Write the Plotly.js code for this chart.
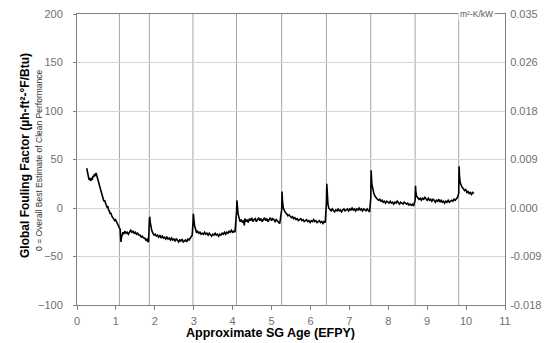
<!DOCTYPE html>
<html>
<head>
<meta charset="utf-8">
<script src="https://cdn.plot.ly/plotly-3.0.1.min.js"></script>
<style>html,body{margin:0;padding:0;background:#fff;}#chart{width:545px;height:343px;}</style>
</head>
<body>
<div id="chart"></div>
<script>
// Approximate outage (vertical line) positions, EFPY
const outages = [1.09, 1.86, 2.98, 4.10, 5.26, 6.41, 7.55, 8.69, 9.81];

// Fouling factor by operating cycle: [EFPY, µh-ft²-°F/Btu]
const cycle1 = [[0.25,41],[0.27,37],[0.29,33],[0.31,29],[0.33,31],[0.35,28],[0.37,30],[0.39,29],[0.41,33],[0.43,32],[0.45,35],[0.47,33],[0.49,36],[0.51,33],[0.53,31],[0.55,27],[0.57,25],[0.59,21],[0.61,19],[0.63,15],[0.65,13],[0.67,9],[0.69,7],[0.71,8],[0.73,4],[0.75,3],[0.77,1],[0.79,2],[0.81,-2],[0.83,-3],[0.85,-6],[0.87,-5],[0.89,-8],[0.91,-9],[0.93,-10],[0.95,-11],[0.97,-13],[0.99,-12],[1.01,-14],[1.03,-15],[1.05,-17],[1.07,-18],[1.09,-20],[1.11,-22],[1.12,-30],[1.13,-35],[1.14,-31],[1.16,-28],[1.18,-25],[1.20,-27],[1.23,-24],[1.26,-26],[1.29,-25],[1.32,-27],[1.35,-25],[1.38,-23],[1.41,-25],[1.44,-24],[1.47,-26],[1.50,-25],[1.53,-27],[1.56,-26],[1.59,-28],[1.62,-28],[1.65,-30],[1.68,-29],[1.71,-31],[1.74,-31],[1.77,-33],[1.80,-32],[1.82,-35],[1.84,-34]];
const cycle2 = [[1.86,-12],[1.87,-9],[1.88,-14],[1.90,-19],[1.92,-23],[1.95,-26],[1.98,-28],[2.01,-27],[2.04,-29],[2.07,-28],[2.10,-30],[2.13,-28],[2.16,-31],[2.19,-29],[2.22,-31],[2.25,-30],[2.28,-32],[2.31,-30],[2.34,-32],[2.37,-31],[2.40,-33],[2.43,-31],[2.46,-33],[2.49,-32],[2.52,-34],[2.55,-32],[2.58,-33],[2.61,-35],[2.64,-33],[2.67,-34],[2.70,-32],[2.73,-35],[2.76,-34],[2.79,-33],[2.82,-35],[2.85,-32],[2.88,-33],[2.91,-31],[2.94,-30],[2.96,-28]];
const cycle3 = [[2.98,-16],[2.99,-6],[3.00,-10],[3.02,-18],[3.04,-22],[3.07,-25],[3.10,-24],[3.13,-26],[3.16,-25],[3.19,-27],[3.22,-26],[3.25,-27],[3.28,-25],[3.31,-27],[3.34,-26],[3.37,-28],[3.40,-26],[3.43,-27],[3.46,-29],[3.49,-27],[3.52,-28],[3.55,-26],[3.58,-28],[3.61,-27],[3.64,-29],[3.67,-27],[3.70,-28],[3.73,-26],[3.76,-27],[3.79,-25],[3.82,-27],[3.85,-25],[3.88,-26],[3.91,-24],[3.94,-25],[3.97,-23],[4.00,-25],[4.03,-24],[4.06,-25]];
const cycle4 = [[4.10,-4],[4.11,8],[4.12,3],[4.14,-6],[4.16,-11],[4.19,-14],[4.22,-12],[4.25,-15],[4.28,-13],[4.30,-18],[4.31,-11],[4.34,-14],[4.37,-12],[4.40,-15],[4.43,-11],[4.46,-13],[4.49,-10],[4.52,-14],[4.55,-12],[4.58,-11],[4.61,-14],[4.64,-12],[4.67,-10],[4.70,-13],[4.73,-11],[4.76,-14],[4.79,-12],[4.82,-10],[4.85,-13],[4.88,-11],[4.91,-14],[4.94,-12],[4.97,-10],[5.00,-13],[5.03,-11],[5.06,-12],[5.09,-14],[5.12,-12],[5.15,-13],[5.18,-15],[5.21,-16]];
const cycle5 = [[5.26,-2],[5.27,17],[5.28,8],[5.30,0],[5.33,-3],[5.36,-5],[5.39,-6],[5.42,-8],[5.45,-7],[5.48,-9],[5.51,-10],[5.54,-9],[5.57,-11],[5.60,-10],[5.63,-12],[5.66,-11],[5.69,-13],[5.72,-12],[5.75,-11],[5.78,-13],[5.81,-12],[5.84,-14],[5.87,-13],[5.90,-12],[5.93,-14],[5.96,-13],[5.99,-15],[6.02,-13],[6.05,-14],[6.08,-12],[6.11,-14],[6.14,-13],[6.17,-15],[6.20,-14],[6.23,-13],[6.26,-15],[6.29,-14],[6.32,-16],[6.35,-14],[6.38,-15]];
const cycle6 = [[6.41,5],[6.42,25],[6.43,14],[6.45,4],[6.47,0],[6.50,-1],[6.53,-3],[6.56,-1],[6.59,-2],[6.62,-4],[6.65,-2],[6.68,-3],[6.71,-1],[6.74,-3],[6.77,-2],[6.80,-4],[6.83,-2],[6.86,-1],[6.89,-3],[6.92,-2],[6.95,-1],[6.98,-3],[7.01,-1],[7.04,-2],[7.07,0],[7.10,-2],[7.13,-1],[7.16,-3],[7.19,-1],[7.22,-2],[7.25,0],[7.28,-2],[7.31,-1],[7.34,-3],[7.37,-1],[7.40,-2],[7.43,-3],[7.46,-1],[7.49,-3],[7.52,-4]];
const cycle7 = [[7.55,10],[7.56,39],[7.57,30],[7.58,24],[7.60,19],[7.63,15],[7.66,12],[7.69,10],[7.72,9],[7.75,8],[7.78,9],[7.81,7],[7.84,8],[7.87,6],[7.90,7],[7.93,5],[7.96,7],[7.99,6],[8.02,5],[8.05,7],[8.08,5],[8.11,6],[8.14,4],[8.17,6],[8.20,5],[8.23,7],[8.26,5],[8.29,4],[8.32,6],[8.35,5],[8.38,4],[8.41,6],[8.44,5],[8.47,4],[8.50,5],[8.53,3],[8.56,4],[8.59,3],[8.62,4],[8.65,2]];
const cycle8 = [[8.69,8],[8.70,23],[8.71,16],[8.73,12],[8.76,10],[8.79,9],[8.82,10],[8.85,8],[8.88,10],[8.91,9],[8.94,11],[8.97,9],[9.00,8],[9.03,10],[9.06,8],[9.09,9],[9.12,7],[9.15,9],[9.18,8],[9.21,6],[9.24,8],[9.27,7],[9.30,9],[9.33,6],[9.36,8],[9.39,6],[9.42,7],[9.45,5],[9.48,7],[9.51,6],[9.54,8],[9.57,6],[9.60,7],[9.63,8],[9.66,7],[9.69,9],[9.72,8],[9.75,10],[9.78,11]];
const cycle9 = [[9.81,15],[9.82,43],[9.83,33],[9.85,26],[9.87,23],[9.90,21],[9.93,20],[9.96,18],[9.99,19],[10.02,16],[10.05,17],[10.08,15],[10.11,16],[10.14,14],[10.17,16],[10.20,15]];

// Axis ticks
const xTicks = [0,1,2,3,4,5,6,7,8,9,10,11];
const yTicks = [-100,-50,0,50,100,150,200];
const yRightLabels = ['-0.018','-0.009','0.000','0.009','0.018','0.026','0.035'];

const cycles = [cycle1,cycle2,cycle3,cycle4,cycle5,cycle6,cycle7,cycle8,cycle9];
const allPts = [].concat(...cycles);

const FONT = '"Liberation Sans", Arial, sans-serif';
const tickFont = {family: FONT, size: 11, color: '#707070'};

const traces = [
  {x: allPts.map(p=>p[0]), y: allPts.map(p=>p[1]), type:'scatter', mode:'lines',
   line:{color:'#000', width:1.6}, xaxis:'x', yaxis:'y', hoverinfo:'skip'},
  {x:[0], y:[0], type:'scatter', mode:'markers', marker:{opacity:0}, xaxis:'x', yaxis:'y2', hoverinfo:'skip'}
];

const shapes = outages.map(v => ({type:'line', xref:'x', yref:'paper', x0:v, x1:v, y0:0, y1:1,
  line:{color:'#a6a6a6', width:1}, layer:'below'}));

const layout = {
  width:545, height:343,
  margin:{l:77, r:40, t:14, b:38},
  paper_bgcolor:'#fff', plot_bgcolor:'#fff',
  showlegend:false,
  font:{family:FONT},
  xaxis:{range:[0,11], tickvals:xTicks, showgrid:false, zeroline:false,
    showline:true, linecolor:'#808080', linewidth:1, mirror:true,
    ticks:'outside', ticklen:4, tickcolor:'#808080', tickfont:tickFont, ticklabelstandoff:2},
  yaxis:{range:[-100,200], tickvals:yTicks, showgrid:true, gridcolor:'#d6d6d6', gridwidth:1,
    zeroline:false, showline:true, linecolor:'#808080', linewidth:1,
    ticks:'outside', ticklen:3, tickcolor:'#808080', tickfont:tickFont, ticklabelstandoff:8},
  yaxis2:{range:[-100,200], overlaying:'y', side:'right', tickvals:yTicks, ticktext:yRightLabels,
    showgrid:false, zeroline:false, showline:true, linecolor:'#808080', linewidth:1,
    ticks:'', tickfont:tickFont, ticklabelstandoff:2},
  shapes: shapes,
  annotations:[
    {text:'<b>Global Fouling Factor (µh-ft²-°F/Btu)</b>', xref:'paper', yref:'paper', x:0, y:0.512,
     xanchor:'center', yanchor:'middle', xshift:-52, textangle:-90, showarrow:false,
     font:{family:FONT, size:12, color:'#000'}},
    {text:'0 = Overall Best Estimate of Clean Performance', xref:'paper', yref:'paper', x:0, y:0.495,
     xanchor:'center', yanchor:'middle', xshift:-38, textangle:-90, showarrow:false,
     font:{family:'"Liberation Sans Narrow", '+FONT, size:8.5, color:'#333'}},
    {text:'<b>Approximate SG Age (EFPY)</b>', xref:'paper', yref:'paper', x:0.451, y:0, yshift:-28,
     xanchor:'center', yanchor:'middle', showarrow:false, font:{family:FONT, size:12.5, color:'#000'}},
    {text:'m²-K/kW', xref:'paper', yref:'paper', x:0.977, y:1, xanchor:'right', yanchor:'middle',
     showarrow:false, bgcolor:'#fff', borderpad:1, font:{family:FONT, size:8.5, color:'#555'}}
  ]
};

Plotly.newPlot('chart', traces, layout, {displayModeBar:false, staticPlot:true});
</script>
</body>
</html>
